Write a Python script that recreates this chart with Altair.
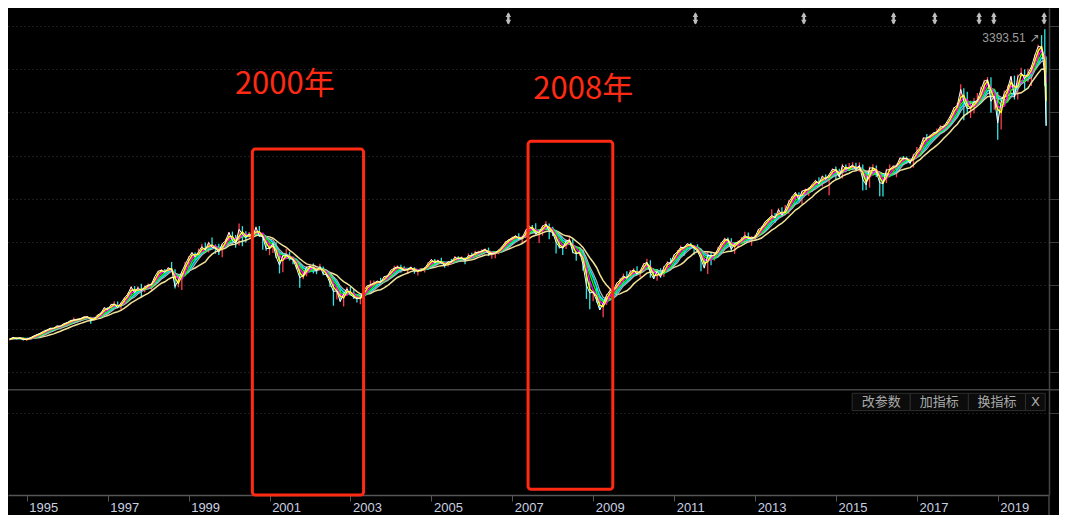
import calendar
import altair as alt
import pandas as pd

# ---------------- data (monthly S&P 500, Jul 1994 .. 12 Mar 2020) ----------------
close = [
    458.3, 475.5, 462.7, 472.4, 453.7, 459.3,
    470.4, 487.4, 500.7, 514.7, 533.4, 544.8, 562.1, 561.9, 584.4, 581.5, 605.4, 615.9,
    636.0, 640.4, 645.5, 654.2, 669.1, 670.6, 639.9, 652.0, 687.3, 705.3, 757.0, 740.7,
    786.2, 790.8, 757.1, 801.3, 848.3, 885.1, 954.3, 899.5, 947.3, 914.6, 955.4, 970.4,
    980.3, 1049.3, 1101.8, 1111.8, 1090.8, 1133.8, 1120.7, 957.3, 1017.0, 1098.7, 1163.6, 1229.2,
    1279.6, 1238.3, 1286.4, 1335.2, 1301.8, 1372.7, 1328.7, 1320.4, 1282.7, 1362.9, 1389.0, 1469.3,
    1394.5, 1366.4, 1498.6, 1452.4, 1420.6, 1454.6, 1430.8, 1517.7, 1436.5, 1429.4, 1315.2, 1320.3,
    1366.0, 1239.9, 1160.3, 1249.5, 1255.8, 1224.4, 1211.2, 1133.6, 1040.9, 1059.8, 1139.5, 1148.1,
    1130.2, 1106.7, 1147.4, 1076.9, 1067.1, 989.8, 911.6, 916.1, 815.3, 885.8, 936.3, 879.8,
    855.7, 841.2, 848.2, 916.9, 963.6, 974.5, 990.3, 1008.0, 996.0, 1050.7, 1058.2, 1111.9,
    1131.1, 1144.9, 1126.2, 1107.3, 1120.7, 1140.8, 1101.7, 1104.2, 1114.6, 1130.2, 1173.8, 1211.9,
    1181.3, 1203.6, 1180.6, 1156.9, 1191.5, 1191.3, 1234.2, 1220.3, 1228.8, 1207.0, 1249.5, 1248.3,
    1280.1, 1280.7, 1294.8, 1310.6, 1270.1, 1270.2, 1276.7, 1303.8, 1335.9, 1377.9, 1400.6, 1418.3,
    1438.2, 1406.8, 1420.9, 1482.4, 1530.6, 1503.4, 1455.3, 1474.0, 1526.8, 1549.4, 1481.1, 1468.4,
    1378.6, 1330.6, 1322.7, 1385.6, 1400.4, 1280.0, 1267.4, 1282.8, 1166.4, 968.8, 896.2, 903.3,
    825.9, 735.1, 797.9, 872.8, 919.1, 919.3, 987.5, 1020.6, 1057.1, 1036.2, 1095.6, 1115.1,
    1073.9, 1104.5, 1169.4, 1186.7, 1089.4, 1030.7, 1101.6, 1049.3, 1141.2, 1183.3, 1180.6, 1257.6,
    1286.1, 1327.2, 1325.8, 1363.6, 1345.2, 1320.6, 1292.3, 1218.9, 1131.4, 1253.3, 1247.0, 1257.6,
    1312.4, 1365.7, 1408.5, 1397.9, 1310.3, 1362.2, 1379.3, 1406.6, 1440.7, 1412.2, 1416.2, 1426.2,
    1498.1, 1514.7, 1569.2, 1597.6, 1630.7, 1606.3, 1685.7, 1633.0, 1681.6, 1756.5, 1805.8, 1848.4,
    1782.6, 1859.5, 1872.3, 1883.9, 1923.6, 1960.2, 1931.0, 2003.4, 1972.3, 2018.1, 2067.6, 2058.9,
    1995.0, 2104.5, 2067.9, 2085.5, 2107.4, 2063.1, 2103.8, 1972.2, 1920.0, 2079.4, 2080.4, 2043.9,
    1940.2, 1932.2, 2059.7, 2065.3, 2096.9, 2098.9, 2173.6, 2171.0, 2168.3, 2126.2, 2198.8, 2238.8,
    2278.9, 2363.6, 2362.7, 2384.2, 2411.8, 2423.4, 2470.3, 2471.7, 2519.4, 2575.3, 2647.6, 2673.6,
    2823.8, 2713.8, 2640.9, 2648.1, 2705.3, 2718.4, 2816.3, 2901.5, 2914.0, 2711.7, 2760.2, 2506.9,
    2704.1, 2784.5, 2834.4, 2945.8, 2752.1, 2941.8, 2980.4, 2926.5, 2976.7, 3037.6, 3141.0, 3230.8,
    3225.5, 2954.2, 2480.6,
]
low = [
    446.0, 456.6, 460.6, 460.3, 449.0, 443.0,
    459.0, 469.0, 481.0, 500.0, 511.0, 532.0, 545.0, 555.0, 560.0, 576.0, 580.0, 601.0,
    597.3, 632.0, 627.0, 624.0, 645.0, 662.0, 605.9, 639.0, 649.0, 685.0, 700.0, 723.0,
    737.0, 769.0, 756.0, 733.5, 799.0, 836.0, 882.0, 899.0, 897.0, 855.3, 904.0, 931.0,
    912.8, 979.0, 1040.0, 1076.0, 1087.0, 1078.0, 1110.0, 939.0, 950.0, 923.3, 1095.0, 1131.0,
    1205.0, 1208.0, 1226.0, 1281.0, 1281.0, 1279.0, 1322.0, 1268.0, 1257.0, 1233.7, 1342.0, 1387.0,
    1350.1, 1325.1, 1346.6, 1339.4, 1373.9, 1420.0, 1410.0, 1430.5, 1425.4, 1305.8, 1296.0, 1254.1,
    1274.6, 1228.0, 1081.2, 1091.9, 1232.4, 1203.0, 1168.0, 1124.9, 944.8, 1026.8, 1054.3, 1123.2,
    1081.7, 1074.4, 1105.9, 1063.5, 1048.9, 952.9, 775.7, 833.4, 815.3, 768.6, 869.4, 873.6,
    840.0, 806.3, 788.9, 847.9, 902.3, 963.6, 965.5, 960.8, 990.3, 995.9, 1031.2, 1055.0,
    1105.1, 1124.1, 1087.2, 1105.0, 1076.3, 1113.6, 1078.8, 1060.7, 1101.3, 1090.2, 1127.6, 1173.8,
    1163.8, 1180.7, 1169.0, 1136.2, 1146.2, 1188.7, 1191.3, 1201.1, 1201.1, 1168.2, 1201.1, 1243.3,
    1245.7, 1253.6, 1276.2, 1280.7, 1245.3, 1219.3, 1224.5, 1263.5, 1296.2, 1331.9, 1360.9, 1395.6,
    1403.9, 1396.9, 1364.0, 1416.4, 1476.7, 1487.0, 1451.2, 1370.6, 1439.3, 1489.6, 1406.1, 1435.7,
    1270.1, 1316.6, 1257.0, 1312.5, 1373.1, 1272.0, 1200.4, 1247.7, 1106.4, 839.8, 741.0, 818.4,
    804.3, 734.5, 666.8, 783.3, 866.1, 888.9, 869.3, 978.5, 992.0, 1020.2, 1029.4, 1085.9,
    1071.6, 1044.5, 1105.4, 1170.7, 1040.8, 1028.3, 1010.9, 1040.0, 1048.3, 1131.9, 1173.0, 1186.6,
    1262.2, 1276.0, 1249.1, 1302.6, 1311.8, 1258.1, 1282.9, 1101.5, 1136.1, 1074.8, 1158.7, 1202.4,
    1258.9, 1310.6, 1340.0, 1357.4, 1291.9, 1266.7, 1325.4, 1377.7, 1396.6, 1403.3, 1343.4, 1398.1,
    1426.2, 1485.0, 1501.5, 1536.0, 1581.3, 1560.3, 1604.6, 1627.5, 1633.4, 1646.5, 1746.8, 1768.0,
    1772.3, 1737.9, 1834.4, 1814.4, 1859.8, 1916.0, 1930.7, 1904.8, 1964.0, 1820.7, 2001.0, 1972.6,
    1988.1, 1980.9, 2039.7, 2048.4, 2067.9, 2056.3, 2044.0, 1867.0, 1871.9, 1893.7, 2019.4, 1993.3,
    1812.3, 1810.1, 1937.1, 2039.5, 2025.9, 1991.7, 2074.0, 2147.6, 2119.1, 2114.7, 2083.8, 2187.9,
    2245.1, 2267.2, 2322.3, 2329.0, 2352.7, 2405.7, 2407.7, 2417.4, 2446.6, 2520.4, 2566.3, 2624.8,
    2682.4, 2532.7, 2585.9, 2553.8, 2594.6, 2692.0, 2699.0, 2795.1, 2864.1, 2603.5, 2631.1, 2346.6,
    2444.0, 2681.8, 2722.3, 2848.6, 2728.8, 2728.8, 2952.2, 2822.1, 2891.9, 2855.9, 3050.7, 3070.3,
    3214.6, 2855.8, 2478.9,
]
high = [
    461.0, 477.6, 476.0, 474.0, 473.0, 466.0,
    473.0, 490.0, 508.0, 516.0, 535.0, 551.0, 564.0, 565.0, 587.0, 588.0, 608.0, 622.0,
    638.0, 665.0, 656.0, 658.0, 675.0, 679.0, 672.0, 672.0, 690.0, 714.0, 762.0, 761.0,
    794.0, 817.0, 815.0, 804.0, 853.0, 898.0, 961.0, 962.0, 961.0, 983.0, 964.0, 986.0,
    993.0, 1051.0, 1106.0, 1123.0, 1124.0, 1139.0, 1190.0, 1122.0, 1066.0, 1103.0, 1192.0, 1244.0,
    1280.0, 1283.0, 1317.0, 1362.0, 1375.0, 1382.0, 1421.0, 1356.0, 1362.0, 1362.0, 1409.0, 1473.0,
    1478.0, 1445.0, 1553.0, 1529.0, 1481.0, 1474.0, 1517.0, 1526.0, 1530.0, 1457.0, 1438.0, 1389.0,
    1383.0, 1376.0, 1268.0, 1269.0, 1316.0, 1285.0, 1236.0, 1218.0, 1142.0, 1110.0, 1150.0, 1173.0,
    1176.0, 1130.0, 1173.0, 1147.0, 1106.0, 1070.0, 994.0, 966.0, 924.0, 907.0, 954.0, 954.0,
    935.0, 864.0, 895.0, 924.0, 966.0, 1015.0, 1015.0, 1011.0, 1040.0, 1054.0, 1063.0, 1112.0,
    1155.0, 1158.0, 1163.0, 1150.0, 1132.0, 1146.0, 1140.0, 1109.0, 1131.0, 1142.0, 1188.0, 1217.0,
    1217.0, 1212.0, 1229.0, 1192.0, 1199.0, 1219.0, 1246.0, 1245.0, 1243.0, 1233.0, 1270.0, 1276.0,
    1295.0, 1297.0, 1310.0, 1318.0, 1326.0, 1284.0, 1280.0, 1306.0, 1340.0, 1389.0, 1407.0, 1431.0,
    1441.0, 1461.0, 1438.0, 1498.0, 1535.0, 1541.0, 1556.0, 1503.0, 1538.0, 1576.0, 1553.0, 1523.0,
    1471.0, 1396.0, 1359.0, 1404.0, 1440.0, 1405.0, 1292.0, 1314.0, 1303.0, 1167.0, 1007.0, 919.0,
    944.0, 877.0, 832.0, 888.0, 930.0, 956.0, 996.0, 1039.0, 1080.0, 1101.0, 1113.0, 1130.0,
    1150.0, 1112.0, 1180.0, 1220.0, 1206.0, 1131.0, 1120.0, 1130.0, 1151.0, 1196.0, 1227.0, 1263.0,
    1303.0, 1345.0, 1333.0, 1364.0, 1371.0, 1345.0, 1357.0, 1307.0, 1230.0, 1293.0, 1278.0, 1270.0,
    1334.0, 1378.0, 1420.0, 1422.0, 1415.0, 1364.0, 1392.0, 1426.0, 1475.0, 1470.0, 1434.0, 1448.0,
    1504.0, 1530.0, 1570.0, 1598.0, 1688.0, 1654.0, 1698.0, 1709.0, 1730.0, 1775.0, 1813.0, 1849.0,
    1851.0, 1867.0, 1884.0, 1897.0, 1925.0, 1968.0, 1991.0, 2006.0, 2019.0, 2018.0, 2076.0, 2094.0,
    2072.0, 2120.0, 2114.0, 2126.0, 2135.0, 2129.0, 2133.0, 2113.0, 2021.0, 2094.0, 2116.0, 2104.0,
    2038.0, 1963.0, 2073.0, 2112.0, 2103.0, 2121.0, 2178.0, 2193.0, 2188.0, 2169.0, 2214.0, 2278.0,
    2301.0, 2372.0, 2401.0, 2398.0, 2418.0, 2454.0, 2484.0, 2491.0, 2520.0, 2582.0, 2657.0, 2695.0,
    2873.0, 2836.0, 2801.0, 2717.0, 2742.0, 2791.0, 2848.0, 2916.0, 2941.0, 2940.0, 2815.0, 2800.0,
    2708.0, 2813.0, 2860.0, 2950.0, 2954.0, 2964.0, 3028.0, 3014.0, 3022.0, 3050.0, 3154.0, 3248.0,
    3338.0, 3393.51, 3136.7,
]
months = [(1994, m) for m in range(7, 13)] + [(y, m) for y in range(1995, 2020) for m in range(1, 13)] + [(2020, 1), (2020, 2), (2020, 3)]
dates = [f"{y}-{m:02d}-{calendar.monthrange(y, m)[1]:02d}" for (y, m) in months]
dates[-1] = "2020-03-12"

# moving-average lengths (months) and their colours
ma_lengths = [10, 5, 6, 4, 3, 2]
ma_colors = ["#f3e49a", "#00e1ff", "#b4b4b4", "#00ff00", "#ff00ff", "#ffff00"]
ma_widths = [1.5, 1.7, 1.2, 1.4, 1.4, 1.4]

# annotations
box_start = ["2000-07-29", "2007-05-23"]
box_end = ["2003-04-29", "2009-06-26"]
box_top = [2258.9, 2332.1]
box_bottom = [-1016.8, -961.9]
label_text = ["2000年", "2008年"]
label_date = ["2001-05-18", "2008-10-02"]
label_value = [2862.8, 2817.1]
event_dates = ["2006-11-26", "2011-07-12", "2014-03-17", "2016-06-04",
               "2017-06-11", "2018-07-16", "2018-11-26", "2020-02-23"]
peak_date = ["2020-02-19"]
peak_value = [3393.51]
grid_values = [3427.4, 3017.5, 2607.6, 2197.7, 1787.8, 1377.9, 968.0, 558.1, 148.2, -239.1]
year_ticks = list(range(1995, 2020, 2))
buttons = ["改参数", "加指标", "换指标", "X"]

# ---------------- layout ----------------
SX = 1051 / 1067
SY = 505 / 523
W = round(1057 * SX)
H = round(504 * SY)
PAD_R = 1051 - W
PAD_B = 507 - H

df = pd.DataFrame({"date": dates, "close": close, "low": low, "high": high})

xscale = alt.Scale(domain=[alt.DateTime(year=1994, month=7, date=15),
                           alt.DateTime(year=2020, month=4, date=7)], nice=False)
yscale = alt.Scale(domain=[-1016.8, 3594.8], nice=False, zero=False)
xaxis = alt.Axis(values=[alt.DateTime(year=y, month=1, date=1) for y in year_ticks],
                 format="%Y", labelAlign="left", labelBaseline="top", labelOffset=2,
                 labelPadding=0, labelColor="#c9d1e1", labelFont="Liberation Sans",
                 labelFontSize=13, tickSize=6, tickColor="#555555", domainColor="#555555",
                 domainWidth=1.5, grid=False, title=None, labelOverlap=False, labelFlush=False)
yaxis = alt.Axis(orient="right", values=grid_values, labels=False, title=None, grid=True,
                 gridColor="#3a3a3a", gridDash=[1, 3], gridWidth=1, tickSize=PAD_R,
                 tickColor="#3d3d3d", domainColor="#444444", domainWidth=1.5)


def X(field):
    return alt.X(field, type="temporal", scale=xscale, axis=xaxis)


def Y(field):
    return alt.Y(field, type="quantitative", scale=yscale, axis=yaxis)


layers = []

# candle wicks (monthly low-high), red up / cyan down
wicks = (
    alt.Chart(df)
    .transform_window(prev="lag(close)", sort=[alt.SortField("date")])
    .transform_calculate(dir="datum.prev == null || datum.close >= datum.prev ? 'up' : 'down'")
    .mark_rule(strokeWidth=1.3)
    .encode(x=X("date"), y=Y("low"), y2="high:Q",
            color=alt.Color("dir:N", scale=alt.Scale(domain=["up", "down"], range=["#ff3c50", "#2ee6e6"]), legend=None))
)
layers.append(wicks)

for n, c, w in zip(ma_lengths, ma_colors, ma_widths):
    layers.append(
        alt.Chart(df)
        .transform_window(ma="mean(close)", frame=[-(n - 1), 0], sort=[alt.SortField("date")])
        .mark_line(color=c, strokeWidth=w)
        .encode(x=X("date"), y=Y("ma"))
    )
layers.append(alt.Chart(df).mark_line(color="#ffffff", strokeWidth=1).encode(x=X("date"), y=Y("close")))

# separator between panels, right frame extension
one = alt.Data(values=[{}])
layers.append(alt.Chart(one).mark_rule(color="#454545", strokeWidth=1.5).encode(
    x=alt.value(0), x2=alt.value(W + PAD_R), y=alt.value(395.3 * SY)))
layers.append(alt.Chart(one).mark_rule(color="#444444", strokeWidth=1.5).encode(
    x=alt.value(W), y=alt.value(H), y2=alt.value(H + PAD_B)))

# red boxes
boxes = pd.DataFrame({"start": box_start, "end": box_end, "top": box_top, "bottom": box_bottom})
layers.append(alt.Chart(boxes).mark_rect(fillOpacity=0, stroke="#ff2a14", strokeWidth=3, cornerRadius=3).encode(
    x=X("start"), x2="end:T", y=Y("top"), y2="bottom:Q"))

labels = pd.DataFrame({"date": label_date, "value": label_value, "label": label_text})
layers.append(alt.Chart(labels).mark_text(font="Noto Sans CJK SC", fontSize=31, color="#ff2a14",
                                           align="center", baseline="middle").encode(
    x=X("date"), y=Y("value"), text="label:N"))

# event markers at the top (double-headed arrows)
ev = pd.DataFrame({"date": event_dates})
layers.append(alt.Chart(ev).mark_rule(color="#bdbdbd", strokeWidth=2.5).encode(
    x=X("date"), y=alt.value(6 * SY), y2=alt.value(16 * SY)))
layers.append(alt.Chart(ev).mark_point(shape="triangle-up", filled=True, size=30, color="#bdbdbd", opacity=1).encode(
    x=X("date"), y=alt.value(6.8 * SY)))
layers.append(alt.Chart(ev).mark_point(shape="triangle-down", filled=True, size=30, color="#bdbdbd", opacity=1).encode(
    x=X("date"), y=alt.value(14.6 * SY)))

# peak label
pk = pd.DataFrame({"date": peak_date, "value": peak_value})
layers.append(alt.Chart(pk).mark_text(font="Liberation Sans", fontSize=12, color="#9c9c9c", align="right",
                                       baseline="middle", dx=-18, dy=9).encode(
    x=X("date"), y=Y("value"), text=alt.Text("value:Q", format=".2f")))
layers.append(alt.Chart(pk).mark_text(font="DejaVu Sans", fontSize=12, color="#9c9c9c", align="center",
                                       baseline="middle", dx=-9, dy=9).encode(
    x=X("date"), y=Y("value"), text=alt.value("↗")))

# buttons in the lower panel
edges = [857, 916, 975, 1033, 1053]
for i, b in enumerate(buttons):
    x0, x1 = edges[i] * SX, edges[i + 1] * SX
    layers.append(alt.Chart(one).mark_rect(fill="#0c0c0c", stroke="#2e2e2e", strokeWidth=1).encode(
        x=alt.value(x0), x2=alt.value(x1), y=alt.value(399 * SY), y2=alt.value(417 * SY)))
    layers.append(alt.Chart(one).mark_text(font="Noto Sans CJK SC" if b != "X" else "DejaVu Sans",
                                           fontSize=13, color="#a9a9a9", align="center", baseline="middle").encode(
        x=alt.value((x0 + x1) / 2), y=alt.value(408.5 * SY), text=alt.value(b)))

chart = (
    alt.layer(*layers)
    .properties(width=W, height=H, padding={"left": 0, "top": 0, "right": PAD_R, "bottom": PAD_B},
                autosize=alt.AutoSizeParams(type="none"))
    .configure(background="#000000")
    .configure_view(stroke=None)
)
chart.save("out.html", embed_options={"renderer": "svg", "actions": False})
